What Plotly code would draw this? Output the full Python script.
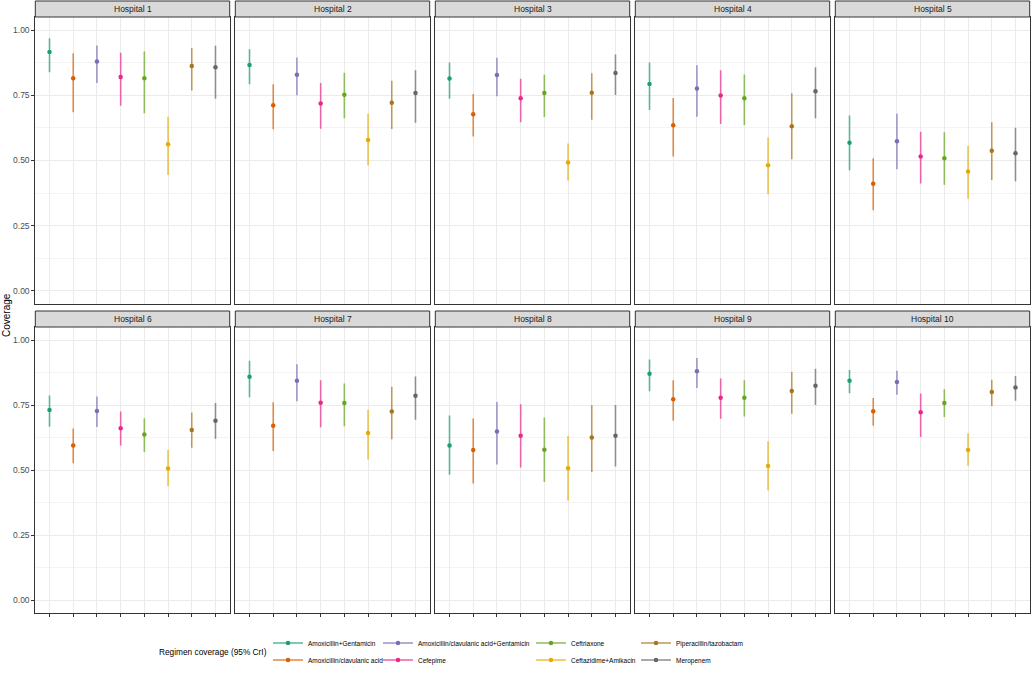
import plotly.graph_objects as go

# regimens in plotting order (x position within each panel)
regimens = [
    "Amoxicillin+Gentamicin",
    "Amoxicillin/clavulanic acid",
    "Amoxicillin/clavulanic acid+Gentamicin",
    "Cefepime",
    "Ceftriaxone",
    "Ceftazidime+Amikacin",
    "Piperacillin/tazobactam",
    "Meropenem",
]
colours = ["#1B9E77", "#D95F02", "#7570B3", "#E7298A", "#66A61E", "#E6AB02", "#A6761D", "#666666"]
hospitals = ["Hospital %d" % i for i in range(1, 11)]

# posterior median coverage, one row per hospital (regimens in the order above)
coverage_median = [
    [0.916, 0.815, 0.879, 0.820, 0.815, 0.562, 0.862, 0.857],
    [0.866, 0.712, 0.829, 0.718, 0.752, 0.579, 0.721, 0.759],
    [0.814, 0.677, 0.828, 0.739, 0.759, 0.492, 0.760, 0.835],
    [0.793, 0.635, 0.776, 0.749, 0.739, 0.482, 0.631, 0.765],
    [0.568, 0.411, 0.574, 0.515, 0.509, 0.458, 0.537, 0.528],
    [0.731, 0.594, 0.727, 0.661, 0.637, 0.506, 0.654, 0.689],
    [0.859, 0.670, 0.843, 0.759, 0.758, 0.642, 0.725, 0.786],
    [0.594, 0.577, 0.648, 0.632, 0.578, 0.507, 0.625, 0.632],
    [0.870, 0.772, 0.880, 0.778, 0.778, 0.515, 0.804, 0.824],
    [0.843, 0.726, 0.838, 0.722, 0.758, 0.577, 0.800, 0.817],
]
# lower 95% CrI
coverage_lower = [
    [0.838, 0.685, 0.797, 0.710, 0.681, 0.444, 0.768, 0.737],
    [0.792, 0.620, 0.750, 0.622, 0.662, 0.482, 0.621, 0.645],
    [0.737, 0.592, 0.746, 0.647, 0.667, 0.423, 0.656, 0.751],
    [0.694, 0.515, 0.668, 0.640, 0.636, 0.371, 0.505, 0.662],
    [0.463, 0.309, 0.466, 0.412, 0.407, 0.353, 0.425, 0.420],
    [0.666, 0.526, 0.665, 0.594, 0.569, 0.438, 0.586, 0.620],
    [0.780, 0.573, 0.764, 0.664, 0.668, 0.540, 0.618, 0.693],
    [0.482, 0.448, 0.521, 0.510, 0.454, 0.383, 0.492, 0.513],
    [0.803, 0.689, 0.815, 0.697, 0.706, 0.422, 0.716, 0.750],
    [0.795, 0.670, 0.789, 0.627, 0.704, 0.516, 0.746, 0.766],
]
# upper 95% CrI
coverage_upper = [
    [0.969, 0.911, 0.941, 0.913, 0.918, 0.668, 0.931, 0.940],
    [0.926, 0.792, 0.895, 0.797, 0.836, 0.679, 0.806, 0.846],
    [0.876, 0.755, 0.894, 0.813, 0.829, 0.565, 0.834, 0.906],
    [0.876, 0.740, 0.865, 0.846, 0.830, 0.588, 0.758, 0.857],
    [0.672, 0.509, 0.679, 0.610, 0.608, 0.556, 0.647, 0.626],
    [0.787, 0.660, 0.783, 0.725, 0.699, 0.577, 0.721, 0.758],
    [0.920, 0.761, 0.907, 0.845, 0.833, 0.732, 0.820, 0.860],
    [0.710, 0.698, 0.762, 0.753, 0.702, 0.631, 0.749, 0.750],
    [0.925, 0.845, 0.931, 0.852, 0.845, 0.611, 0.878, 0.889],
    [0.885, 0.777, 0.882, 0.794, 0.811, 0.641, 0.847, 0.862],
]
y_ticks = [0, 0.25, 0.5, 0.75, 1.0]
y_ticktext = ["0.00", "0.25", "0.50", "0.75", "1.00"]

W, H = 1031, 676
panel_left = [35.3 + 200 * k for k in range(5)]
panel_w = 194.4
panel_top = [17, 327]
panel_bottom = [304, 613]
strip_h = 16

# legend laid out like ggplot's 2-row, column-major guide: one small legend per entry
# (row 2 kept at 660 so the legend box stays inside the page and does not push the margin)
legend_col_x = [268, 378, 531, 636]
legend_row_y = [643, 660]


def rgba(hex_colour, a):
    h = hex_colour.lstrip("#")
    return "rgba(%d,%d,%d,%.2f)" % (int(h[0:2], 16), int(h[2:4], 16), int(h[4:6], 16), a)


def px_x(v):
    return v / W


def px_y(v):
    return 1 - v / H


def legend_key(r):
    return "legend" if r == 0 else "legend%d" % (r + 1)


fig = go.Figure()
layout = {}
shapes = []
annotations = []

for h, name in enumerate(hospitals):
    row, col = divmod(h, 5)
    n = h + 1
    xa = "x" if n == 1 else "x%d" % n
    ya = "y" if n == 1 else "y%d" % n
    for r, reg in enumerate(regimens):
        med = coverage_median[h][r]
        lo = coverage_lower[h][r]
        hi = coverage_upper[h][r]
        fig.add_trace(go.Scatter(
            x=[r + 1], y=[med], xaxis=xa, yaxis=ya,
            mode="lines+markers",
            name=reg,
            legend=legend_key(r),
            legendgroup=reg,
            showlegend=(h == 0),
            marker=dict(color=colours[r], size=4.5),
            line=dict(color=rgba(colours[r], 0.75), width=1.5),
            error_y=dict(type="data", symmetric=False, array=[hi - med], arrayminus=[med - lo],
                         color=rgba(colours[r], 0.7), thickness=1.6, width=0),
            hovertemplate=name + "<br>" + reg + "<br>%{y:.3f}<extra></extra>",
        ))

    x0 = px_x(panel_left[col])
    x1 = px_x(panel_left[col] + panel_w)
    y0 = px_y(panel_bottom[row])
    y1 = px_y(panel_top[row])
    layout["xaxis" if n == 1 else "xaxis%d" % n] = dict(
        domain=[x0, x1], anchor=ya, range=[0.4, 8.6],
        tickvals=list(range(1, 9)), ticktext=[""] * 8,
        showgrid=True, gridcolor="#EBEBEB", gridwidth=1,
        zeroline=False, showline=True, mirror=True, linecolor="#333333", linewidth=1,
        ticks="outside" if row == 1 else "", ticklen=3, tickcolor="#333333", tickwidth=1,
        fixedrange=True,
    )
    layout["yaxis" if n == 1 else "yaxis%d" % n] = dict(
        domain=[y0, y1], anchor=xa, range=[-0.05, 1.05],
        tickvals=y_ticks, ticktext=y_ticktext, showticklabels=(col == 0),
        tickfont=dict(size=8.5, color="#4D4D4D"),
        showgrid=True, gridcolor="#EBEBEB", gridwidth=1,
        minor=dict(dtick=0.125, tick0=0, showgrid=True, gridcolor="#F3F3F3", gridwidth=0.6),
        zeroline=False, showline=True, mirror=True, linecolor="#333333", linewidth=1,
        ticks="outside" if col == 0 else "", ticklen=3, tickcolor="#333333", tickwidth=1,
        fixedrange=True,
    )
    # facet strip
    shapes.append(dict(type="rect", xref="paper", yref="paper",
                       x0=x0, x1=x1, y0=y1, y1=px_y(panel_top[row] - strip_h),
                       fillcolor="#D9D9D9", line=dict(color="#333333", width=1), layer="above"))
    annotations.append(dict(text=name, xref="paper", yref="paper",
                            x=(x0 + x1) / 2, y=px_y(panel_top[row] - strip_h / 2),
                            xanchor="center", yanchor="middle", showarrow=False,
                            font=dict(size=8.5, color="#1A1A1A")))

annotations.append(dict(text="Coverage", xref="paper", yref="paper", x=px_x(6), y=px_y(315),
                        textangle=-90, xanchor="center", yanchor="middle", showarrow=False,
                        font=dict(size=10, color="#000000")))
annotations.append(dict(text="Regimen coverage (95% CrI)", xref="paper", yref="paper",
                        x=px_x(legend_col_x[0] + 1), y=px_y(652), xanchor="right", yanchor="middle",
                        showarrow=False, font=dict(size=8.3, color="#000000")))

for r in range(len(regimens)):
    c, rr = divmod(r, 2)
    layout[legend_key(r)] = dict(
        x=px_x(legend_col_x[c]), y=px_y(legend_row_y[rr]),
        xanchor="left", yanchor="middle", orientation="v", bgcolor="rgba(0,0,0,0)",
        font=dict(size=6.5, color="#000000"),
    )

fig.update_layout(**layout)
fig.update_layout(
    width=W, height=H,
    margin=dict(l=0, r=0, t=0, b=0),
    paper_bgcolor="white", plot_bgcolor="white",
    font=dict(family="Liberation Sans, Arial, sans-serif"),
    shapes=shapes, annotations=annotations,
)
# drop the default page margin so the figure sits at the window's top-left corner
fig.write_html("out.html", config={"displayModeBar": False},
               post_script="document.body.style.margin='0';document.body.style.overflow='hidden';")
